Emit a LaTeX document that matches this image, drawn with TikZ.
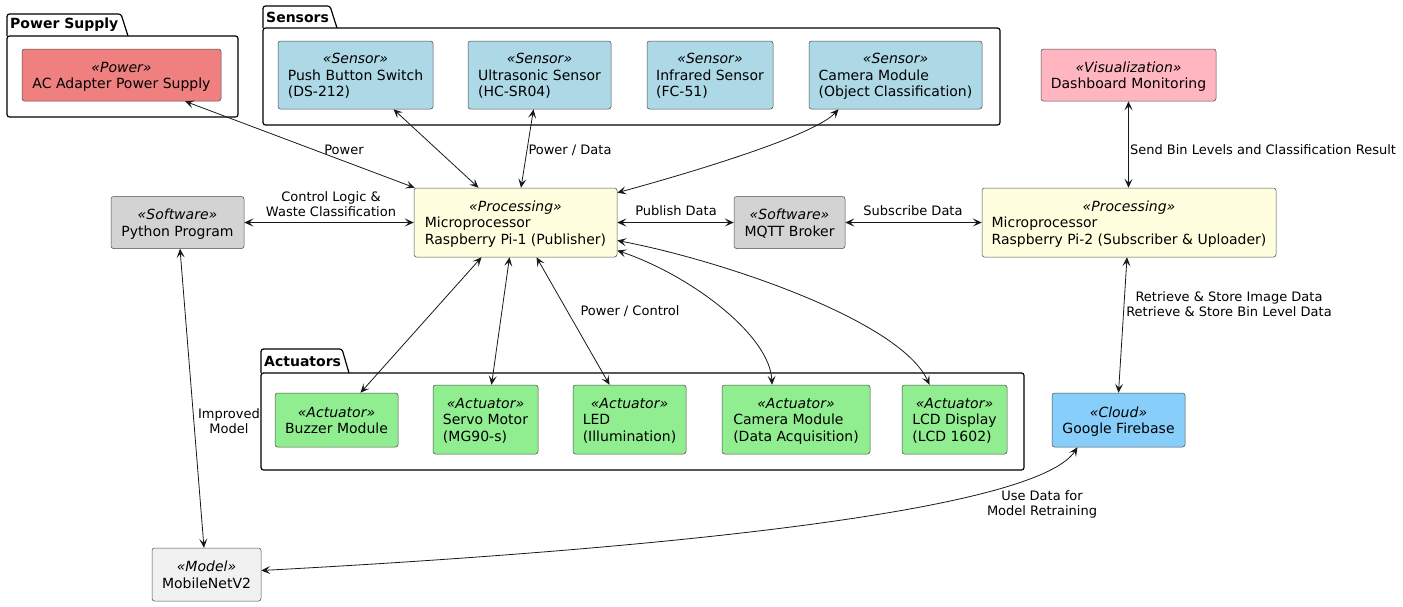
\documentclass[tikz,border=0pt]{standalone}
\usepackage{fontspec}
\setmainfont{DejaVu Sans}
\usetikzlibrary{arrows.meta}
\definecolor{powerc}{HTML}{F08080}
\definecolor{sensorc}{HTML}{ADD8E6}
\definecolor{vizc}{HTML}{FFB6C1}
\definecolor{procc}{HTML}{FFFFE0}
\definecolor{softc}{HTML}{D3D3D3}
\definecolor{actc}{HTML}{90EE90}
\definecolor{cloudc}{HTML}{87CEFA}
\definecolor{modelc}{HTML}{F1F1F1}
\definecolor{linec}{HTML}{181818}
\newcommand{\nodetxt}[2]{\raisebox{0pt}[\dimexpr\height+4pt\relax][\depth]{\begin{tabular}{@{}l@{}}\multicolumn{1}{@{}c@{}}{\itshape «#1»}\\#2\end{tabular}}}
\renewcommand{\arraystretch}{1}
\begin{document}
\begin{tikzpicture}[x=1pt,y=-1pt,
  >={Stealth[length=9pt,width=8pt,inset=4pt]},
  box/.style={draw=black!70, line width=0.5pt, rounded corners=2.5pt, inner sep=0pt, font=\fontsize{14}{16.5}\selectfont},
  lbl/.style={font=\fontsize{13}{15}\selectfont, align=center, inner sep=0pt},
  conn/.style={<->, draw=linec, line width=0.8pt},
  pkg/.style={draw=black, line width=1.2pt, rounded corners=2.5pt},
  pkgt/.style={font=\bfseries\fontsize{14}{16}\selectfont, anchor=west, inner sep=0pt}]
\useasboundingbox (0,0) rectangle (1403,606);

% packages
\draw[pkg] (7,36) rectangle (238,117);
\draw[pkg] (7,36) -- (7,14) -- (121,14) -- (128,36);
\node[pkgt] (tps) at (10,25) {Power Supply};
\draw[pkg] (263,28) rectangle (1000,125);
\draw[pkg] (263,28) -- (263,6) -- (330,6) -- (337,28);
\node[pkgt] (tse) at (266,17) {Sensors};
\draw[pkg] (261,373) rectangle (1024,470);
\draw[pkg] (261,373) -- (261,349) -- (342,349) -- (349,373);
\node[pkgt] (tac) at (264,361) {Actuators};

% nodes
\node[box, fill=powerc, minimum width=199pt, minimum height=52pt] (ac) at (121.5,75) {\nodetxt{Power}{AC Adapter Power Supply}};
\node[box, fill=sensorc, minimum width=155pt, minimum height=68pt] (pb) at (355.5,75) {\nodetxt{Sensor}{Push Button Switch\\(DS-212)}};
\node[box, fill=sensorc, minimum width=143pt, minimum height=68pt] (us) at (539.5,75) {\nodetxt{Sensor}{Ultrasonic Sensor\\(HC-SR04)}};
\node[box, fill=sensorc, minimum width=126pt, minimum height=68pt] (ir) at (710,75) {\nodetxt{Sensor}{Infrared Sensor\\(FC-51)}};
\node[box, fill=sensorc, minimum width=173pt, minimum height=68pt] (cs) at (895.5,75) {\nodetxt{Sensor}{Camera Module\\(Object Classification)}};
\node[box, fill=vizc, minimum width=175pt, minimum height=52pt] (dash) at (1128.5,75) {\nodetxt{Visualization}{Dashboard Monitoring}};
\node[box, fill=procc, minimum width=203pt, minimum height=69pt] (pi1) at (515.5,222.5) {\nodetxt{Processing}{Microprocessor\\Raspberry Pi-1 (Publisher)}};
\node[box, fill=softc, minimum width=133pt, minimum height=52pt] (py) at (177.5,222.5) {\nodetxt{Software}{Python Program}};
\node[box, fill=softc, minimum width=111pt, minimum height=52pt] (mq) at (789.5,222.5) {\nodetxt{Software}{MQTT Broker}};
\node[box, fill=procc, minimum width=294pt, minimum height=69pt] (pi2) at (1129,222.5) {\nodetxt{Processing}{Microprocessor\\Raspberry Pi-2 (Subscriber \& Uploader)}};
\node[box, fill=actc, minimum width=123pt, minimum height=54pt] (bz) at (336.5,420) {\nodetxt{Actuator}{Buzzer Module}};
\node[box, fill=actc, minimum width=105pt, minimum height=69pt] (sv) at (485.5,419.5) {\nodetxt{Actuator}{Servo Motor\\(MG90-s)}};
\node[box, fill=actc, minimum width=113pt, minimum height=69pt] (led) at (629.5,419.5) {\nodetxt{Actuator}{LED\\(Illumination)}};
\node[box, fill=actc, minimum width=148pt, minimum height=69pt] (cam) at (796,419.5) {\nodetxt{Actuator}{Camera Module\\(Data Acquisition)}};
\node[box, fill=actc, minimum width=105pt, minimum height=69pt] (lcd) at (954.5,419.5) {\nodetxt{Actuator}{LCD Display\\(LCD 1602)}};
\node[box, fill=cloudc, minimum width=133pt, minimum height=54pt] (fb) at (1118.5,420) {\nodetxt{Cloud}{Google Firebase}};
\node[box, fill=modelc, minimum width=109pt, minimum height=53pt] (mn) at (206.5,574.5) {\nodetxt{Model}{MobileNetV2}};

% connectors
\draw[conn] ([xshift=63.5pt]ac.south) -- ([xshift=1pt]pi1.north west);
\draw[conn] ([xshift=38pt]pb.south) -- ([xshift=-37pt]pi1.north);
\draw[conn] ([xshift=-6pt]us.south) -- ([xshift=5.5pt]pi1.north);
\draw[conn] ([xshift=-57pt]cs.south) .. controls (815,135) and (700,170) .. ([yshift=-5pt]pi1.north east);
\draw[conn] (py.east) -- (pi1.west);
\draw[conn] (pi1.east) -- (mq.west);
\draw[conn] (mq.east) -- (pi2.west);
\draw[conn] (dash.south) -- (dash.south |- pi2.north);
\draw[conn] ([xshift=-2pt]pi2.south) -- (fb.north);
\draw[conn] ([xshift=2.5pt]py.south) -- ([xshift=-2.5pt]mn.north);
\draw[conn] ([xshift=-41pt]fb.south) .. controls (1030,520) and (550,555) .. ([yshift=4pt]mn.east);
\draw[conn] ([xshift=-34pt]pi1.south) -- ([xshift=24pt]bz.north);
\draw[conn] ([xshift=-6pt]pi1.south) -- ([xshift=6pt]sv.north);
\draw[conn] ([xshift=21pt]pi1.south) -- ([xshift=-20pt]led.north);
\draw[conn] ([yshift=-28pt]pi1.east) .. controls (690,275) and (770,335) .. ([xshift=-24pt]cam.north);
\draw[conn] ([yshift=-18pt]pi1.east) .. controls (720,260) and (900,320) .. ([xshift=-25pt]lcd.north);

% labels
\node[lbl] (l1) at (344,150) {Power};
\node[lbl] (l2) at (570,150) {Power / Data};
\node[lbl] (l3) at (331,204.5) {Control Logic \&\\Waste Classification};
\node[lbl] (l4) at (676,211) {Publish Data};
\node[lbl] (l5) at (913,211) {Subscribe Data};
\node[lbl] (l6) at (1263,150) {Send Bin Levels and Classification Result};
\node[lbl] (l7) at (1229,304) {Retrieve \& Store Image Data\\Retrieve \& Store Bin Level Data};
\node[lbl] (l8) at (630,311) {Power / Control};
\node[lbl] (l9) at (229,421) {Improved\\Model};
\node[lbl] (l10) at (1042,504.5) {Use Data for\\Model Retraining};
\end{tikzpicture}
\end{document}
